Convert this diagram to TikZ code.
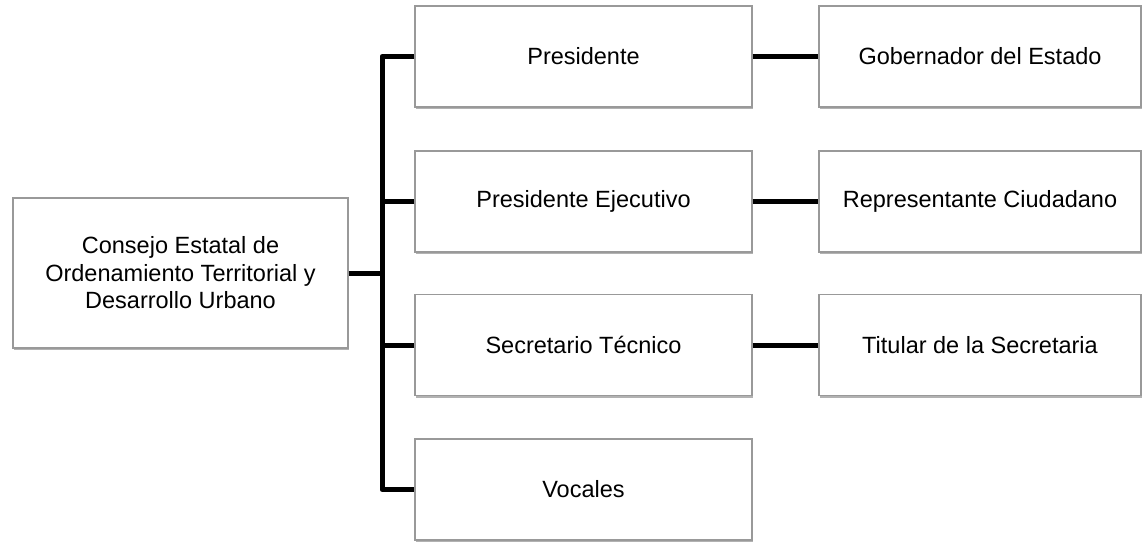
\documentclass[tikz,border=0pt]{standalone}
\usepackage{fontspec}
\setmainfont{Liberation Sans}
\usetikzlibrary{shadows}
\begin{document}
\begin{tikzpicture}[x=1pt,y=-1pt,
  box/.style={draw=black!40, line width=1.3pt, fill=white, rectangle, inner sep=0pt,
    align=center, font=\fontsize{23.5}{27.5}\selectfont,
    drop shadow={shadow xshift=1.2pt, shadow yshift=-2pt, fill=black, opacity=0.3}},
  conn/.style={line width=5pt, draw=black, line join=round}]
\useasboundingbox (0,0) rectangle (1145,542);
\node[box, minimum width=335pt, minimum height=150pt] (L) at (180.5,273) {Consejo Estatal de\\Ordenamiento Territorial y\\Desarrollo Urbano};
\node[box, minimum width=337pt, minimum height=101pt] (P) at (583.5,56.5) {Presidente};
\node[box, minimum width=337pt, minimum height=101pt] (E) at (583.5,201.5) {Presidente Ejecutivo};
\node[box, minimum width=337pt, minimum height=101pt] (S) at (583.5,345) {Secretario Técnico};
\node[box, minimum width=337pt, minimum height=101pt] (V) at (583.5,489.5) {Vocales};
\node[box, minimum width=322pt, minimum height=101pt] (G) at (980,56.5) {Gobernador del Estado};
\node[box, minimum width=322pt, minimum height=101pt] (R) at (980,201.5) {Representante Ciudadano};
\node[box, minimum width=322pt, minimum height=101pt] (T) at (980,345) {Titular de la Secretaria};
\coordinate (tr) at (382,0);
\draw[conn] (P.west) -- (P.west -| tr) -- (V.west -| tr) -- (V.west);
\draw[conn] (L.east) -- (L.east -| tr);
\draw[conn] (E.west) -- (E.west -| tr);
\draw[conn] (S.west) -- (S.west -| tr);
\draw[conn] (P.east) -- (G.west);
\draw[conn] (E.east) -- (R.west);
\draw[conn] (S.east) -- (T.west);
\end{tikzpicture}
\end{document}
